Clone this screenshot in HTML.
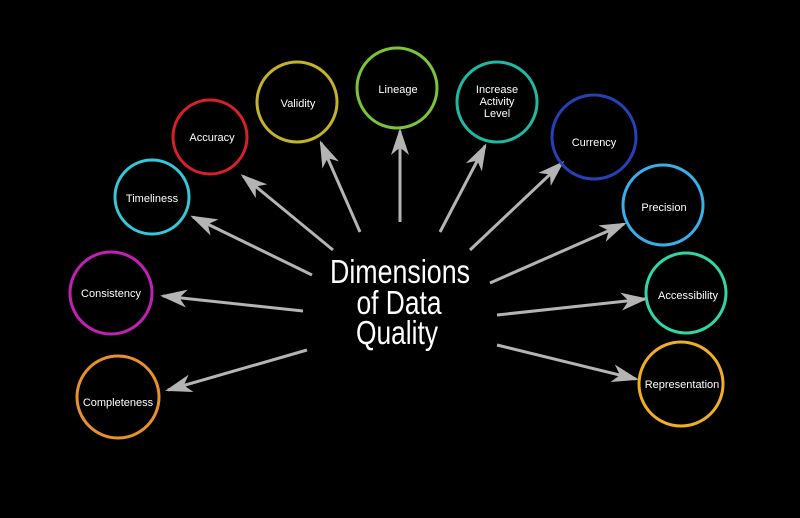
<!DOCTYPE html>
<html><head><meta charset="utf-8"><style>
html,body{margin:0;padding:0;background:#000;}
svg{display:block}
text{font-family:"Liberation Sans",sans-serif;fill:#fff}
</style></head><body>
<svg width="800" height="518" viewBox="0 0 800 518" xmlns="http://www.w3.org/2000/svg">
<defs>
<marker id="a" markerWidth="9" markerHeight="6" refX="8" refY="3" orient="auto" markerUnits="strokeWidth">
<path d="M0,0 L9,3 L0,6 L2.5,3 Z" fill="#b4b4b4"/>
</marker>
</defs>
<rect width="800" height="518" fill="#000"/>
<g stroke="#b4b4b4" stroke-width="3" marker-end="url(#a)" fill="none">
<line x1="307" y1="350" x2="168" y2="390"/>
<line x1="303" y1="311" x2="163" y2="296"/>
<line x1="312" y1="275" x2="193" y2="217"/>
<line x1="333" y1="250" x2="243" y2="176"/>
<line x1="360" y1="232" x2="321" y2="143"/>
<line x1="400" y1="222" x2="400" y2="131"/>
<line x1="440" y1="232" x2="485" y2="146"/>
<line x1="470" y1="250" x2="562" y2="163"/>
<line x1="490" y1="283" x2="624" y2="224"/>
<line x1="497" y1="315" x2="645" y2="299"/>
<line x1="497" y1="345" x2="636" y2="379"/>
</g>
<g fill="none" stroke-width="3">
<circle cx="118" cy="397" r="41" stroke="#e8912c"/>
<circle cx="111" cy="293" r="41" stroke="#c21fb5"/>
<circle cx="152" cy="197" r="37" stroke="#34c9da"/>
<circle cx="210" cy="137" r="37" stroke="#d8202a"/>
<circle cx="297" cy="102" r="40" stroke="#c3b22a"/>
<circle cx="397" cy="88" r="40" stroke="#7bc43a"/>
<circle cx="497" cy="102" r="40" stroke="#1fb9a3"/>
<circle cx="594" cy="137" r="42" stroke="#2740b8"/>
<circle cx="663" cy="205" r="40" stroke="#3aaee8"/>
<circle cx="686" cy="293" r="40" stroke="#2fd6a8"/>
<circle cx="681" cy="384" r="42" stroke="#f0ae22"/>
</g>
<g font-size="11" text-anchor="middle">
<text x="118" y="406">Completeness</text>
<text x="111" y="297">Consistency</text>
<text x="152" y="202">Timeliness</text>
<text x="212" y="141">Accuracy</text>
<text x="298" y="107">Validity</text>
<text x="398" y="93">Lineage</text>
<text x="497" y="93">Increase</text>
<text x="497" y="105">Activity</text>
<text x="497" y="117">Level</text>
<text x="594" y="146">Currency</text>
<text x="664" y="211">Precision</text>
<text x="688" y="299">Accessibility</text>
<text x="682" y="388">Representation</text>
</g>
<g font-size="33" text-anchor="middle">
<text x="400" y="283" textLength="140" lengthAdjust="spacingAndGlyphs">Dimensions</text>
<text x="399" y="314" textLength="85" lengthAdjust="spacingAndGlyphs">of Data</text>
<text x="397" y="344" textLength="82" lengthAdjust="spacingAndGlyphs">Quality</text>
</g>
</svg>
</body></html>
